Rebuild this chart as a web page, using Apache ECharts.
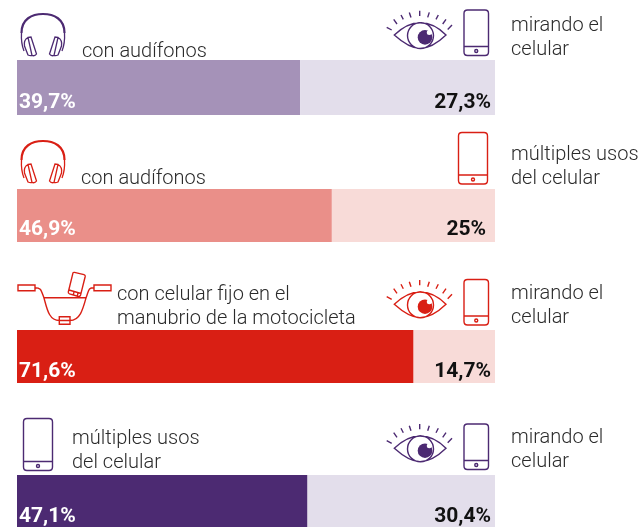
<!DOCTYPE html>
<html>
<head>
<meta charset="utf-8">
<style>
  html, body { margin: 0; padding: 0; background: #fff; }
  #chart { width: 642px; height: 527px; }
</style>
<script src="https://cdn.jsdelivr.net/npm/echarts@6/dist/echarts.min.js"></script>
</head>
<body>
<div id="chart"></div>
<script>
const leftValues = [39.7, 46.9, 71.6, 47.1]
const rightValues = [27.3, 25, 14.7, 30.4]
// what the full bar width stands for (second row is drawn a bit off its sum)
const rowTotals = [67, 71.2, 86.3, 77.5]
const leftCaptions = [
  ['con audífonos'],
  ['con audífonos'],
  ['con celular fijo en el', 'manubrio de la motocicleta'],
  ['múltiples usos', 'del celular']
]
const rightCaptions = [
  ['mirando el', 'celular'],
  ['múltiples usos', 'del celular'],
  ['mirando el', 'celular'],
  ['mirando el', 'celular']
]

const PURPLE = '#4c2a72'
const RED = '#d91f14'
const leftColors = ['#a592b8', '#ea8f89', RED, PURPLE]
const rightColors = ['#e3deeb', '#f8dbd8', '#f8dbd8', '#e3deeb']

// bar rows in px, inset/drop nudge the value labels
const rows = [
  { top: 60, height: 55, inset: 2, drop: 0 },
  { top: 189, height: 53, inset: 7, drop: 0 },
  { top: 330, height: 53, inset: 2, drop: 1 },
  { top: 475, height: 52, inset: 2, drop: 2 }
]
// first baseline of each caption
const leftCaptionPos = [
  { x: 82, y: 57 }, { x: 81, y: 184 }, { x: 117, y: 300 }, { x: 72, y: 444 }
]
const rightCaptionPos = [
  { x: 511, y: 31 }, { x: 511, y: 160 }, { x: 511, y: 299 }, { x: 511, y: 443 }
]

const fmt = v => String(v).replace('.', ',') + '%'

const phonePath = (w, h) => {
  const r = 3.5
  const bar = h - 9
  const cx = w / 2
  return `M${r} 0H${w - r}Q${w} 0 ${w} ${r}V${h - r}Q${w} ${h} ${w - r} ${h}H${r}Q0 ${h} 0 ${h - r}V${r}Q0 0 ${r} 0Z` +
    `M0 ${bar}H${w}` +
    `M${cx - 1.5} ${h - 4.5}A1.5 1.5 0 1 0 ${cx + 1.5} ${h - 4.5}A1.5 1.5 0 1 0 ${cx - 1.5} ${h - 4.5}Z`
}

const headbandPath = 'M1.5 20C1.5 6 12 1 23 1C34 1 44.5 6 44.5 20'
const headphonesPath =
  'M1.5 20C1 28 2 33 4 38M44.5 20C45 28 44 33 42 38' +
  'M8 24.5L11 24L16.5 41Q15 43.5 12 42.5Z' +
  'M8 24.5Q3.5 27 4.5 33L8 42Q10 43 12 42.5' +
  'M38 24.5L35 24L29.5 41Q31 43.5 34 42.5Z' +
  'M38 24.5Q42.5 27 41.5 33L38 42Q36 43 34 42.5'

const eyeLinePath =
  'M.7 16.7L5.7 19.3M7.7 8.7L11 13.3M15 4.3L17.3 8.7M23.3 1.7L25 6.7M33.7 0V5.3' +
  'M43.3 1.7L41.7 6.7M52.3 4.3L50 8.7M60 8.7L56.7 13.3M66 14.3L61.7 18.7' +
  'M8.3 24.3C18 15 26 12 34 12C42 12 51 15 60 24.3C51 33 42 37.7 34 37.7C26 37.7 18 33 8.3 24.3Z' +
  'M21.5 24.9A13 13 0 1 0 47.5 24.9A13 13 0 1 0 21.5 24.9Z'

const handlebarPath =
  'M35 27.7C41 27.7 41 30 44 38C47 49 49 60.5 59.3 60.5H70C80 60.5 83 49 86 38C89 30 88 27.7 94 27.7' +
  'M44 37.7H86' +
  'M59.3 56.7H70V64.3H59.3Z' +
  'M18 25H35V30.7H18Z' +
  'M94 25H111V30.7H94Z' +
  'M74.5 12.4L84 14.6Q85.5 15 85.2 16.5L80.5 35.3Q80 36.9 78.5 36.5L69.5 33.8Q68 33.3 68.3 32L72.8 13.6Q73.1 12.1 74.5 12.4Z' +
  'M69 30L81 33.5M74 31.5L73.3 35M78 32.7L77.3 36.2'

const stroke = (color, lineWidth) => ({ fill: 'none', stroke: color, lineWidth })

const eyeIcon = (x, y, color) => ({
  type: 'group', x, y, children: [
    { type: 'path', shape: { pathData: eyeLinePath }, style: stroke(color, 1.4) },
    { type: 'circle', shape: { cx: 39, cy: 26.7, r: 7.3 }, style: { fill: color } },
    { type: 'circle', shape: { cx: 43.3, cy: 21.7, r: 2.5 }, style: { fill: '#fff' } }
  ]
})
const phoneIcon = (x, y, w, h, color) => ({
  type: 'group', x, y, children: [
    { type: 'path', shape: { pathData: phonePath(w, h) }, style: stroke(color, 1.4) }
  ]
})
const headphonesIcon = (x, y, color) => ({
  type: 'group', x, y, children: [
    { type: 'path', shape: { pathData: headbandPath }, style: stroke(color, 2.2) },
    { type: 'path', shape: { pathData: headphonesPath }, style: stroke(color, 1.3) }
  ]
})
const handlebarIcon = (x, y, color) => ({
  type: 'group', x, y, children: [
    { type: 'path', shape: { pathData: handlebarPath }, style: stroke(color, 1.4) }
  ]
})

const icons = [
  headphonesIcon(20, 13, PURPLE),
  eyeIcon(386, 10.7, PURPLE),
  phoneIcon(464, 10, 24.5, 45.5, PURPLE),
  headphonesIcon(20, 140, RED),
  phoneIcon(458.5, 132.5, 29, 51.5, RED),
  handlebarIcon(0, 260, RED),
  eyeIcon(386, 280, RED),
  phoneIcon(464, 279.5, 24.5, 45.5, RED),
  phoneIcon(23.5, 418.5, 29, 52, PURPLE),
  eyeIcon(386, 424, PURPLE),
  phoneIcon(464, 424, 24.5, 45.5, PURPLE)
]

const captionText = (lines, pos) => lines.map((line, i) => ({
  type: 'text',
  x: pos.x,
  y: pos.y + i * 23.5 - 15,
  style: {
    text: line,
    fill: '#2b2b2b',
    font: '300 20px Roboto'
  }
}))

const grids = rows.map(r => ({ left: 17, width: 478, top: r.top, height: r.height }))
const xAxes = rows.map((r, i) => ({
  type: 'value', gridIndex: i, min: 0, max: rowTotals[i], show: false
}))
const yAxes = rows.map((r, i) => ({
  type: 'category', gridIndex: i, data: [''], show: false
}))

const barSeries = (i, value, color, position, labelColor, offset) => ({
  type: 'bar',
  xAxisIndex: i,
  yAxisIndex: i,
  stack: 'row' + i,
  barWidth: '100%',
  silent: true,
  data: [value],
  itemStyle: { color },
  label: {
    show: true,
    position,
    distance: 2,
    offset,
    formatter: p => fmt(p.value),
    color: labelColor,
    fontFamily: 'Roboto',
    fontWeight: 700,
    fontSize: 21
  }
})

const series = []
rows.forEach((r, i) => {
  series.push(barSeries(i, leftValues[i], leftColors[i], 'insideBottomLeft', '#fff', [0, r.drop]))
  series.push(barSeries(i, rightValues[i], rightColors[i], 'insideBottomRight', '#111', [-r.inset, r.drop]))
})

series.push({
  type: 'custom',
  coordinateSystem: 'none',
  silent: true,
  data: icons.map((d, i) => i),
  renderItem: params => icons[params.dataIndex]
})

const chart = echarts.init(document.getElementById('chart'), null, { renderer: 'canvas' })
chart.setOption({
  animation: false,
  grid: grids,
  xAxis: xAxes,
  yAxis: yAxes,
  series,
  graphic: leftCaptions.flatMap((lines, i) => captionText(lines, leftCaptionPos[i]))
    .concat(rightCaptions.flatMap((lines, i) => captionText(lines, rightCaptionPos[i])))
})
</script>
</body>
</html>
